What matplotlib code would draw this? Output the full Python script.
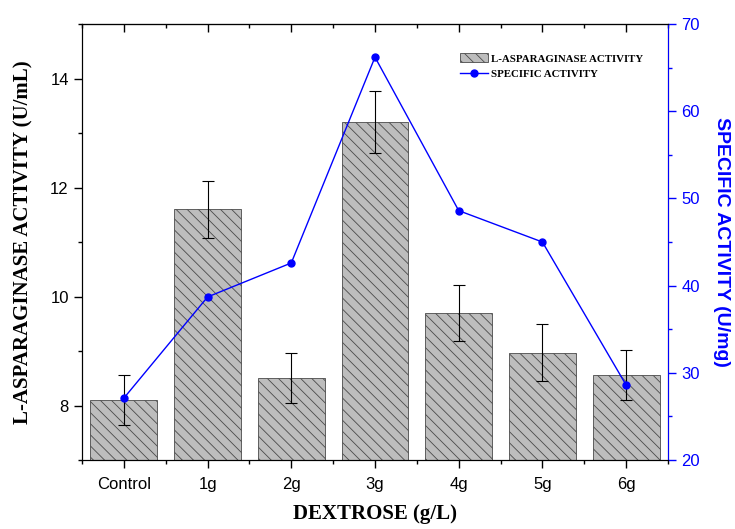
#%% Imports
import numpy as np
import matplotlib
matplotlib.use('Agg')
import matplotlib.pyplot as plt
from matplotlib.ticker import MultipleLocator

#%% Data
categories = ['Control', '1g', '2g', '3g', '4g', '5g', '6g']
asparaginase = [8.10, 11.60, 8.50, 13.20, 9.70, 8.97, 8.56]
asparaginase_err = [0.46, 0.52, 0.46, 0.57, 0.52, 0.52, 0.46]
specific_activity = [27.1, 38.7, 42.6, 66.2, 48.6, 45.0, 28.6]

#%% Plot
plt.rcParams['hatch.linewidth'] = 0.6
plt.rcParams['font.family'] = 'Liberation Sans'

figure = plt.figure(figsize=(7.35, 5.29), dpi=100)
ax = figure.add_axes([0.1116, 0.1304, 0.7972, 0.8242])
x = np.arange(len(categories))

ax.bar(x, asparaginase, width=0.8, color='#bdbdbd', edgecolor='#4a4a4a',
       linewidth=0.6, hatch='\\\\\\', label='L-ASPARAGINASE ACTIVITY', zorder=2)
ax.errorbar(x, asparaginase, yerr=asparaginase_err, fmt='none', ecolor='black',
            elinewidth=0.8, capsize=4, capthick=0.8, zorder=3)

ax.set_xlim(-0.5, 6.5)
ax.set_ylim(7, 15)
ax.set_xticks(x)
ax.set_xticklabels(categories)
ax.xaxis.set_minor_locator(MultipleLocator(0.5))
ax.yaxis.set_major_locator(MultipleLocator(2))
ax.yaxis.set_minor_locator(MultipleLocator(1))
ax.tick_params(axis='both', which='major', direction='out', length=6, width=1,
               labelsize=12)
ax.tick_params(axis='both', which='minor', direction='out', length=3, width=1)
ax.tick_params(axis='x', which='major', pad=6)
ax.set_xlabel('DEXTROSE (g/L)', fontfamily='Liberation Serif', fontweight='bold',
              fontsize=15, labelpad=9)
ax.set_ylabel('L-ASPARAGINASE ACTIVITY (U/mL)', fontfamily='Liberation Serif',
              fontweight='bold', fontsize=15, labelpad=12)

# top ticks pointing inward
top = ax.secondary_xaxis('top')
top.set_xticks(x)
top.xaxis.set_minor_locator(MultipleLocator(0.5))
top.tick_params(which='major', direction='in', length=6, width=1, labeltop=False)
top.tick_params(which='minor', direction='in', length=3, width=1)

ax2 = ax.twinx()
ax2.plot(x, specific_activity, color='blue', linewidth=1, marker='o',
         markersize=5, label='SPECIFIC ACTIVITY', zorder=4)
ax2.set_ylim(20, 70)
ax2.yaxis.set_major_locator(MultipleLocator(10))
ax2.yaxis.set_minor_locator(MultipleLocator(5))
ax2.tick_params(axis='y', which='major', direction='out', length=6, width=1,
                colors='blue', labelsize=12)
ax2.tick_params(axis='y', which='minor', direction='out', length=3, width=1,
                colors='blue')
ax2.spines['right'].set_color('blue')
ax2.set_ylabel('SPECIFIC ACTIVITY (U/mg)', color='blue', fontweight='bold',
               fontsize=14, rotation=270, labelpad=22)

handles1, labels1 = ax.get_legend_handles_labels()
handles2, labels2 = ax2.get_legend_handles_labels()
ax2.legend(handles1 + handles2, labels1 + labels2, loc='upper right',
           bbox_to_anchor=(0.975, 0.955), frameon=False,
           prop={'family': 'Liberation Serif', 'weight': 'bold', 'size': 7.8},
           handlelength=2.6, handleheight=0.9, handletextpad=0.3,
           labelspacing=0.5)

figure.savefig('out.png', dpi=100)
